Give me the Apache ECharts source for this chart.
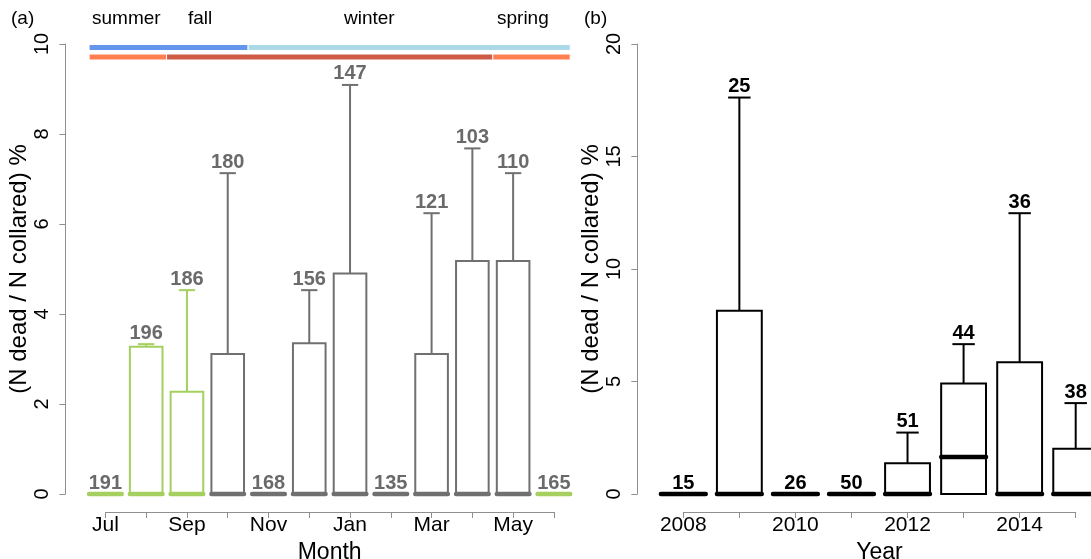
<!DOCTYPE html>
<html>
<head>
<meta charset="utf-8">
<script src="https://cdn.jsdelivr.net/npm/echarts@6/dist/echarts.min.js"></script>
<style>
  html, body { margin: 0; padding: 0; background: #fff; }
  #chart { width: 1091px; height: 559px; }
</style>
</head>
<body>
<div id="chart"></div>
<script>
// ---- Monthly mortality (panel a) ----
const months = ['Jul', 'Aug', 'Sep', 'Oct', 'Nov', 'Dec', 'Jan', 'Feb', 'Mar', 'Apr', 'May', 'Jun'];
const monthN      = [191, 196, 186, 180, 168, 156, 147, 135, 121, 103, 110, 165];
const monthQ1     = [0, 0, 0, 0, 0, 0, 0, 0, 0, 0, 0, 0];
const monthMedian = [0, 0, 0, 0, 0, 0, 0, 0, 0, 0, 0, 0];
const monthQ3     = [0, 3.27, 2.27, 3.11, 0, 3.35, 4.90, 0, 3.11, 5.18, 5.18, 0];
const monthUpper  = [0, 3.33, 4.53, 7.13, 0, 4.53, 9.09, 0, 6.24, 7.68, 7.13, 0];
const greenMonths = ['Jul', 'Aug', 'Sep', 'Jun'];
const monthTicks  = [0, 2, 4, 6, 8, 10];

// season bands drawn above panel a (first and last month covered)
const upperBand = [
  { from: 'Jul', to: 'Oct', color: '#6495ED' },
  { from: 'Nov', to: 'Jun', color: '#ADD8E6' }
];
const lowerBand = [
  { from: 'Jul', to: 'Aug', color: '#FF7F50' },
  { from: 'Sep', to: 'Apr', color: '#CD5B45' },
  { from: 'May', to: 'Jun', color: '#FF7F50' }
];
const seasonNames = ['summer', 'fall', 'winter', 'spring'];

// ---- Yearly mortality (panel b) ----
const years      = ['2008', '2009', '2010', '2011', '2012', '2013', '2014', '2015'];
const yearN      = [15, 25, 26, 50, 51, 44, 36, 38];
const yearQ1     = [0, 0, 0, 0, 0, 0, 0, 0];
const yearMedian = [0, 0, 0, 0, 0, 1.64, 0, 0];
const yearQ3     = [0, 8.14, 0, 0, 1.37, 4.91, 5.86, 2.01];
const yearUpper  = [0, 17.62, 0, 0, 2.73, 6.66, 12.48, 4.04];
const yearTicks  = [0, 5, 10, 15, 20];

const FONT = 'Liberation Sans, Arial, Helvetica, sans-serif';
const AXIS_GREY = '#8f8f8f';
const GREEN = '#a5cf5e';
const GREY = '#707070';

function boxData(n, q1, med, q3, up) {
  return n.map((v, i) => [i, q1[i], med[i], q3[i], up[i], v]);
}

function makeBoxRenderer(colorOf, labelColorOf) {
  return function (params, api) {
    const i = api.value(0);
    const q1 = api.value(1), med = api.value(2), q3 = api.value(3), up = api.value(4), n = api.value(5);
    const unit = api.coord([1, 0])[0] - api.coord([0, 0])[0];
    const cx = api.coord([i, 0])[0];
    const half = unit * 0.4;
    const capHalf = unit * 0.2;
    const yQ1 = api.coord([i, q1])[1];
    const yMed = api.coord([i, med])[1];
    const yQ3 = api.coord([i, q3])[1];
    const yUp = api.coord([i, up])[1];
    const col = colorOf(params.dataIndex);
    const children = [];
    if (q3 > q1) {
      children.push({
        type: 'rect',
        shape: { x: cx - half, y: yQ3, width: half * 2, height: yQ1 - yQ3 },
        style: { fill: 'none', stroke: col, lineWidth: 2 }
      });
    }
    if (up > q3) {
      children.push({
        type: 'line',
        shape: { x1: cx, y1: yQ3, x2: cx, y2: yUp },
        style: { stroke: col, lineWidth: 2 }
      });
      children.push({
        type: 'line',
        shape: { x1: cx - capHalf, y1: yUp, x2: cx + capHalf, y2: yUp },
        style: { stroke: col, lineWidth: 2 }
      });
    }
    children.push({
      type: 'line',
      shape: { x1: cx - half, y1: yMed, x2: cx + half, y2: yMed },
      style: { stroke: col, lineWidth: 4.5, lineCap: 'round' }
    });
    children.push({
      type: 'text',
      style: {
        text: String(n), x: cx, y: Math.min(yUp, yQ3) - 11,
        align: 'center', verticalAlign: 'middle',
        font: 'bold 20px ' + FONT, fill: labelColorOf(params.dataIndex)
      }
    });
    return { type: 'group', children: children };
  };
}

// contiguous colour bands: each segment meets its neighbour half way between months,
// the outer ends stop at the outer box edges
function bandRenderer(bands, offsetY) {
  return function (params, api) {
    const b = bands[params.dataIndex];
    const unit = api.coord([1, 0])[0] - api.coord([0, 0])[0];
    const iFrom = months.indexOf(b.from), iTo = months.indexOf(b.to);
    const x1 = api.coord([iFrom, 0])[0] - unit * (iFrom === 0 ? 0.4 : 0.5);
    const x2 = api.coord([iTo, 0])[0] + unit * (iTo === months.length - 1 ? 0.4 : 0.5);
    const top = api.coord([0, 10])[1];
    return {
      type: 'rect',
      shape: { x: x1, y: top + offsetY, width: x2 - x1, height: 6 },
      style: { fill: b.color, stroke: '#ffffff', lineWidth: 1 }
    };
  };
}

const axisBase = {
  axisLine: { show: true, onZero: false, lineStyle: { color: AXIS_GREY, width: 1 } },
  axisTick: { show: true, length: 6, lineStyle: { color: AXIS_GREY, width: 1 } },
  splitLine: { show: false }
};

const chart = echarts.init(document.getElementById('chart'), null, { renderer: 'canvas' });

chart.setOption({
  backgroundColor: '#ffffff',
  animation: false,
  textStyle: { fontFamily: FONT },
  grid: [
    { left: 105.4, right: 1091 - 553.9, top: 44, bottom: 559 - 494, outerBoundsMode: 'none', containLabel: false },
    { left: 683.3, right: 1091 - 1075.7, top: 44, bottom: 559 - 494, outerBoundsMode: 'none', containLabel: false }
  ],
  xAxis: [
    Object.assign({}, axisBase, {
      gridIndex: 0, type: 'category', data: months, boundaryGap: false, offset: 18,
      axisTick: Object.assign({}, axisBase.axisTick, { interval: 0 }),
      axisLabel: { interval: 1, color: '#000', fontSize: 21, margin: 3, fontFamily: FONT },
      name: 'Month', nameLocation: 'middle', nameGap: 21,
      nameTextStyle: { fontSize: 23, color: '#000', fontFamily: FONT }
    }),
    Object.assign({}, axisBase, {
      gridIndex: 1, type: 'category', data: years, boundaryGap: false, offset: 18,
      axisTick: Object.assign({}, axisBase.axisTick, { interval: 0 }),
      axisLabel: { interval: 1, color: '#000', fontSize: 21, margin: 3, fontFamily: FONT },
      name: 'Year', nameLocation: 'middle', nameGap: 21,
      nameTextStyle: { fontSize: 23, color: '#000', fontFamily: FONT }
    })
  ],
  yAxis: [
    Object.assign({}, axisBase, {
      gridIndex: 0, type: 'value', min: monthTicks[0], max: monthTicks[monthTicks.length - 1],
      interval: monthTicks[1] - monthTicks[0], offset: 40,
      axisLabel: { rotate: 90, color: '#000', fontSize: 20, margin: 13, fontFamily: FONT },
      name: '(N dead / N collared) %', nameLocation: 'middle', nameRotate: 90, nameGap: 31,
      nameTextStyle: { fontSize: 24, color: '#000', fontFamily: FONT }
    }),
    Object.assign({}, axisBase, {
      gridIndex: 1, type: 'value', min: yearTicks[0], max: yearTicks[yearTicks.length - 1],
      interval: yearTicks[1] - yearTicks[0], offset: 46,
      axisLabel: { rotate: 90, color: '#000', fontSize: 20, margin: 13, fontFamily: FONT },
      name: '(N dead / N collared) %', nameLocation: 'middle', nameRotate: 90, nameGap: 28,
      nameTextStyle: { fontSize: 24, color: '#000', fontFamily: FONT }
    })
  ],
  series: [
    {
      type: 'custom', xAxisIndex: 0, yAxisIndex: 0, clip: false,
      renderItem: bandRenderer(upperBand, 0.5),
      data: upperBand.map((b, i) => [i, 10])
    },
    {
      type: 'custom', xAxisIndex: 0, yAxisIndex: 0, clip: false,
      renderItem: bandRenderer(lowerBand, 10),
      data: lowerBand.map((b, i) => [i, 10])
    },
    {
      type: 'custom', xAxisIndex: 0, yAxisIndex: 0, clip: false,
      renderItem: makeBoxRenderer(
        i => greenMonths.includes(months[i]) ? GREEN : GREY,
        i => '#6a6a6a'
      ),
      data: boxData(monthN, monthQ1, monthMedian, monthQ3, monthUpper)
    },
    {
      type: 'custom', xAxisIndex: 1, yAxisIndex: 1, clip: false,
      renderItem: makeBoxRenderer(i => '#000000', i => '#000000'),
      data: boxData(yearN, yearQ1, yearMedian, yearQ3, yearUpper)
    }
  ],
  graphic: [
    { type: 'text', left: 11, top: 9, style: { text: '(a)', font: '19px ' + FONT, fill: '#000' } },
    { type: 'text', left: 584, top: 9, style: { text: '(b)', font: '19px ' + FONT, fill: '#000' } },
    { type: 'text', left: 92, top: 9, style: { text: seasonNames[0], font: '19px ' + FONT, fill: '#000' } },
    { type: 'text', left: 188, top: 9, style: { text: seasonNames[1], font: '19px ' + FONT, fill: '#000' } },
    { type: 'text', left: 344, top: 9, style: { text: seasonNames[2], font: '19px ' + FONT, fill: '#000' } },
    { type: 'text', left: 497, top: 9, style: { text: seasonNames[3], font: '19px ' + FONT, fill: '#000' } }
  ]
});
</script>
</body>
</html>
